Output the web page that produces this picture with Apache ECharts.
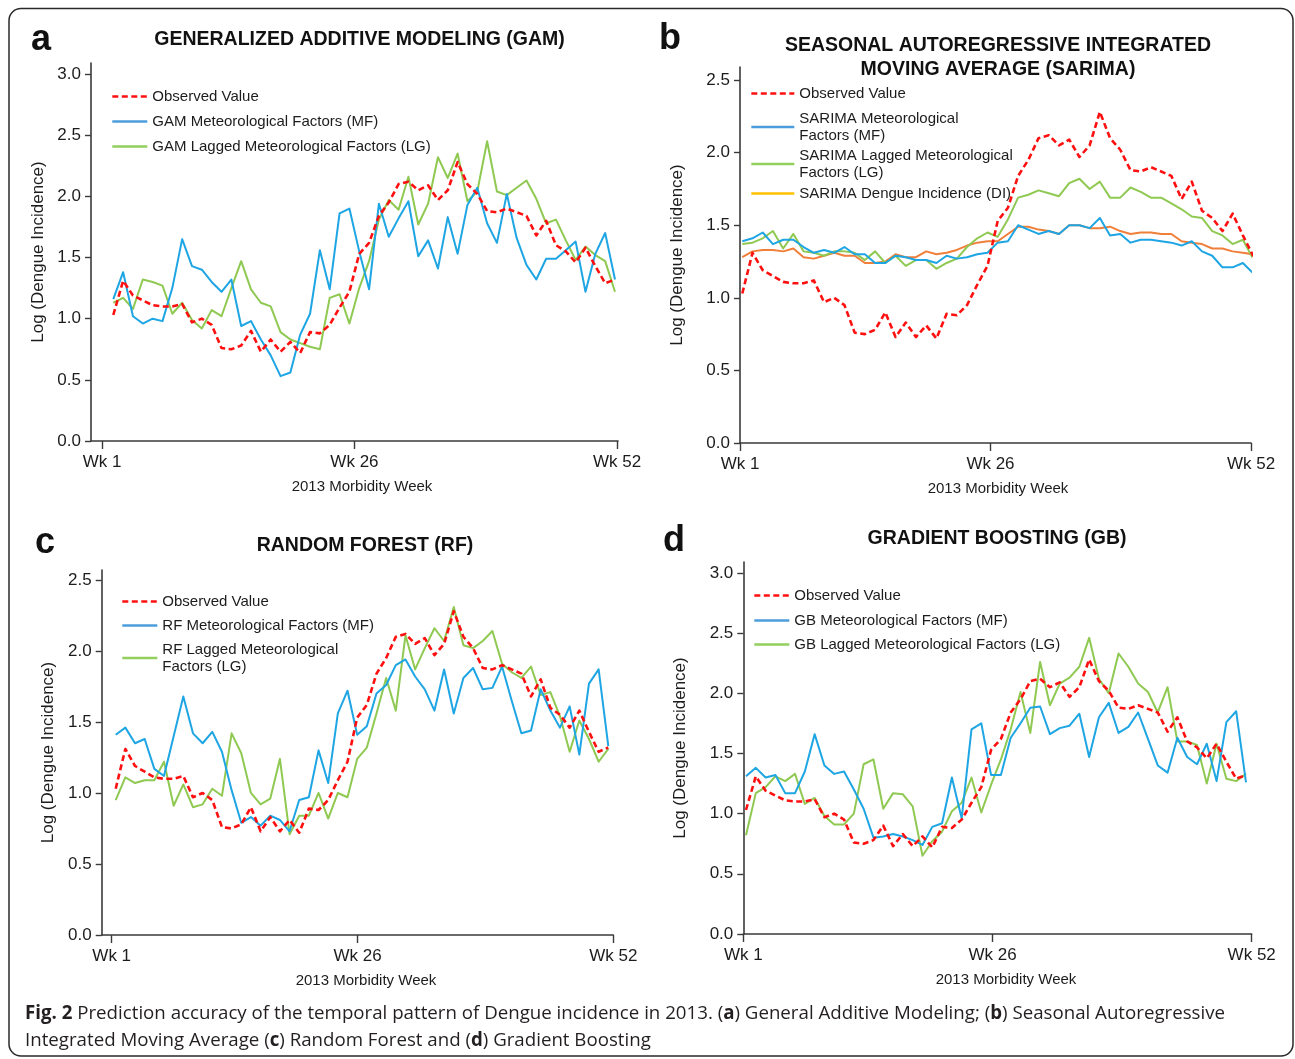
<!DOCTYPE html>
<html><head><meta charset="utf-8">
<script src="https://cdn.jsdelivr.net/npm/echarts@6/dist/echarts.min.js"></script>
<style>html,body{margin:0;padding:0;background:#fff}#c{width:1295px;height:1059px}</style>
</head><body><div id="c"></div>
<script>
// ---------------- DATA ----------------
const weeks = [1,2,3,4,5,6,7,8,9,10,11,12,13,14,15,16,17,18,19,20,21,22,23,24,25,26,27,28,29,30,31,32,33,34,35,36,37,38,39,40,41,42,43,44,45,46,47,48,49,50,51,52];
const tickWeeks = [1, 26, 52];
const tickLabels = ['Wk 1', 'Wk 26', 'Wk 52'];
const yTicks30 = [0, 0.5, 1.0, 1.5, 2.0, 2.5, 3.0];
const yTicks25 = [0, 0.5, 1.0, 1.5, 2.0, 2.5];

const observed = [1.03,1.31,1.19,1.15,1.11,1.10,1.10,1.12,0.97,1.00,0.95,0.76,0.75,0.78,0.90,0.73,0.83,0.73,0.81,0.72,0.89,0.88,0.95,1.09,1.22,1.53,1.62,1.84,1.95,2.10,2.12,2.05,2.09,1.97,2.05,2.28,2.10,2.02,1.88,1.87,1.90,1.87,1.84,1.68,1.80,1.60,1.55,1.46,1.58,1.43,1.29,1.32];

const gamMF = [1.16,1.38,1.02,0.96,1.00,0.98,1.25,1.65,1.43,1.40,1.30,1.22,1.32,0.94,0.98,0.83,0.70,0.53,0.56,0.87,1.04,1.56,1.24,1.86,1.90,1.55,1.24,1.94,1.67,1.82,1.96,1.51,1.64,1.41,1.83,1.53,1.93,2.07,1.78,1.62,2.02,1.66,1.44,1.32,1.49,1.49,1.56,1.63,1.22,1.53,1.70,1.32];
const gamLG = [1.13,1.17,1.08,1.32,1.30,1.27,1.04,1.13,0.99,0.92,1.07,1.02,1.25,1.47,1.24,1.13,1.10,0.89,0.83,0.80,0.77,0.75,1.17,1.20,0.96,1.25,1.47,1.81,1.97,1.89,2.16,1.77,1.94,2.32,2.15,2.35,1.96,2.04,2.45,2.04,2.01,2.07,2.13,1.98,1.78,1.81,1.64,1.48,1.59,1.52,1.47,1.22];

const sarMF = [1.39,1.41,1.45,1.37,1.40,1.40,1.35,1.31,1.33,1.31,1.35,1.30,1.30,1.24,1.24,1.29,1.28,1.26,1.26,1.24,1.29,1.27,1.28,1.30,1.31,1.38,1.39,1.50,1.47,1.44,1.46,1.44,1.50,1.50,1.48,1.55,1.43,1.44,1.38,1.40,1.40,1.39,1.38,1.36,1.39,1.32,1.29,1.21,1.21,1.24,1.17,1.24];
const sarLG = [1.37,1.38,1.41,1.46,1.34,1.44,1.32,1.31,1.29,1.32,1.32,1.31,1.26,1.32,1.24,1.29,1.22,1.26,1.26,1.20,1.24,1.27,1.35,1.41,1.45,1.42,1.54,1.69,1.71,1.74,1.72,1.70,1.79,1.82,1.75,1.80,1.69,1.69,1.76,1.73,1.69,1.69,1.65,1.61,1.56,1.55,1.46,1.43,1.37,1.40,1.27,1.28];
const sarDI = [1.28,1.32,1.33,1.33,1.32,1.34,1.28,1.27,1.29,1.31,1.29,1.29,1.24,1.24,1.25,1.30,1.28,1.28,1.32,1.30,1.31,1.33,1.36,1.38,1.39,1.39,1.44,1.49,1.49,1.47,1.46,1.44,1.50,1.50,1.48,1.48,1.49,1.46,1.44,1.45,1.45,1.44,1.44,1.39,1.38,1.37,1.34,1.34,1.32,1.31,1.30,1.26];

const rfMF = [1.41,1.46,1.35,1.38,1.17,1.12,1.40,1.68,1.42,1.35,1.43,1.29,1.02,0.79,0.83,0.77,0.84,0.81,0.73,0.95,0.97,1.30,1.07,1.56,1.72,1.41,1.47,1.70,1.76,1.90,1.94,1.82,1.73,1.58,1.87,1.56,1.81,1.88,1.73,1.74,1.89,1.65,1.42,1.44,1.73,1.58,1.46,1.61,1.27,1.77,1.87,1.33];
const rfLG = [0.95,1.11,1.07,1.09,1.09,1.22,0.91,1.06,0.90,0.92,1.03,0.98,1.42,1.28,1.00,0.92,0.96,1.24,0.71,0.84,0.84,1.00,0.82,1.00,0.97,1.24,1.32,1.56,1.81,1.58,2.11,1.87,2.02,2.16,2.07,2.31,2.04,2.02,2.07,2.14,1.91,1.85,1.81,1.89,1.69,1.71,1.54,1.29,1.51,1.38,1.22,1.31];

const gbMF = [1.31,1.38,1.30,1.32,1.17,1.17,1.35,1.66,1.40,1.33,1.35,1.20,1.04,0.80,0.81,0.83,0.81,0.78,0.74,0.89,0.92,1.30,0.96,1.70,1.75,1.32,1.32,1.63,1.75,1.88,1.89,1.66,1.71,1.73,1.83,1.47,1.80,1.92,1.67,1.72,1.84,1.62,1.40,1.34,1.63,1.47,1.41,1.58,1.27,1.76,1.85,1.26];
const gbLG = [0.82,1.17,1.22,1.31,1.27,1.33,1.08,1.13,0.98,0.91,0.91,1.00,1.41,1.45,1.04,1.17,1.16,1.06,0.65,0.77,0.85,1.02,1.09,1.30,1.01,1.24,1.45,1.70,2.01,1.67,2.26,1.90,2.08,2.13,2.22,2.46,2.12,2.00,2.33,2.22,2.08,2.01,1.84,2.05,1.60,1.60,1.57,1.25,1.58,1.29,1.27,1.33];

const panelLetters = ['a', 'b', 'c', 'd'];
const panelTitles = [
  ['GENERALIZED ADDITIVE MODELING (GAM)'],
  ['SEASONAL AUTOREGRESSIVE INTEGRATED', 'MOVING AVERAGE (SARIMA)'],
  ['RANDOM FOREST (RF)'],
  ['GRADIENT BOOSTING (GB)']
];
const xAxisTitle = '2013 Morbidity Week';
const yAxisTitle = 'Log (Dengue Incidence)';
const captionLine1 = ['Fig. 2', ' Prediction accuracy of the temporal pattern of Dengue incidence in 2013. (', 'a', ') General Additive Modeling; (', 'b', ') Seasonal Autoregressive'];
const captionLine2 = ['Integrated Moving Average (', 'c', ') Random Forest and (', 'd', ') Gradient Boosting'];

// series definitions: [name, legend label, data array, kind]
const panelSeries = [
  [['Observed Value','Observed Value',observed,'obs'],
   ['GAM Meteorological Factors (MF)','GAM Meteorological Factors (MF)',gamMF,'mf'],
   ['GAM Lagged Meteorological Factors (LG)','GAM Lagged Meteorological Factors (LG)',gamLG,'lg']],
  [['Observed Value','Observed Value',observed,'obs'],
   ['SARIMA Meteorological Factors (MF)','SARIMA Meteorological\nFactors (MF)',sarMF,'mf'],
   ['SARIMA Lagged Meteorological Factors (LG)','SARIMA Lagged Meteorological\nFactors (LG)',sarLG,'lg'],
   ['SARIMA Dengue Incidence (DI)','SARIMA Dengue Incidence (DI)',sarDI,'di']],
  [['Observed Value','Observed Value',observed,'obs'],
   ['RF Meteorological Factors (MF)','RF Meteorological Factors (MF)',rfMF,'mf'],
   ['RF Lagged Meteorological Factors (LG)','RF Lagged Meteorological\nFactors (LG)',rfLG,'lg']],
  [['Observed Value','Observed Value',observed,'obs'],
   ['GB Meteorological Factors (MF)','GB Meteorological Factors (MF)',gbMF,'mf'],
   ['GB Lagged Meteorological Factors (LG)','GB Lagged Meteorological Factors (LG)',gbLG,'lg']]
];

// ---------------- LAYOUT / STYLE ----------------
const FONT = '"Liberation Sans", Arial, Helvetica, sans-serif';
const TXT = '#1c1c1c';
const AX = '#3a3a3a';
const styles = {
  obs: {color:'#ff1010', width:2.6, type:[6,3.5], z:5},
  mf:  {color:'#1ea5e3', width:2, type:'solid', z:3},
  lg:  {color:'#8fc952', width:2, type:'solid', z:2},
  di:  {color:'#f07f3a', width:2, type:'solid', z:1}
};
const legendColor = {obs:'#ff1010', mf:'#4c9ddc', lg:'#92cf5c', di:'#ffc000'};

const layout = [
  {axisX:91, axisY:441, top:63, right:618, yMax:3.09, yTicks:yTicks30, vis:[102,617], dat:[113.3,615],
   titleX:359.5, titleY:[40], letter:[41,40], yGap:44, xPad:15,
   legLeft:111, legW:35, legTops:[88,113,138]},
  {axisX:740, axisY:443, top:67, right:1251, yMax:2.59, yTicks:yTicks25, vis:[740,1251], dat:[742.3,1263.3],
   titleX:998, titleY:[46,70], letter:[670,39], yGap:54, xPad:5,
   legLeft:750, legW:43, legTops:[85,110,147,185]},
  {axisX:101.7, axisY:935, top:570, right:613.3, yMax:2.57, yTicks:yTicks25, vis:[111.7,613.3], dat:[115.7,608.3],
   titleX:365, titleY:[546], letter:[45,543], yGap:45, xPad:17,
   legLeft:121, legW:35, legTops:[593,617,641]},
  {axisX:743.3, axisY:934, top:562, right:1251.7, yMax:3.09, yTicks:yTicks30, vis:[743.3,1251.7], dat:[746,1246],
   titleX:997, titleY:[539], letter:[674,541], yGap:54.5, xPad:17,
   legLeft:753, legW:35, legTops:[587,612,636]}
];

function extent(px, axisX, right) {
  const ppw = (px[1] - px[0]) / 51;
  return [1 - (px[0] - axisX) / ppw, 52 + (right - px[1]) / ppw];
}

const grid = [], xAxis = [], yAxis = [], series = [], legend = [], graphic = [];

layout.forEach((L, i) => {
  grid.push({left:L.axisX, top:L.top, width:L.right - L.axisX, height:L.axisY - L.top, containLabel:false});
  const ve = extent(L.vis, L.axisX, L.right);
  const de = extent(L.dat, L.axisX, L.right);
  xAxis.push({
    type:'value', gridIndex:i, min:ve[0], max:ve[1], position:'bottom',
    axisLine:{show:true, onZero:false, lineStyle:{color:AX, width:1.6}},
    axisTick:{show:true, customValues:tickWeeks, length:8, lineStyle:{color:AX, width:1.4}},
    axisLabel:{show:true, customValues:tickWeeks, formatter:(v)=>tickLabels[tickWeeks.indexOf(Math.round(v))],
      margin:13, fontSize:17, color:TXT, fontFamily:FONT},
    splitLine:{show:false},
    name:xAxisTitle, nameLocation:'middle', nameGap:38,
    nameTextStyle:{fontSize:15, color:TXT, fontFamily:FONT, padding:[0,0,0,L.xPad]}
  });
  xAxis.push({type:'value', gridIndex:i, min:de[0], max:de[1], show:false, position:'top'});
  yAxis.push({
    type:'value', gridIndex:i, min:0, max:L.yMax,
    axisLine:{show:true, onZero:false, lineStyle:{color:AX, width:1.6}},
    axisTick:{show:true, customValues:L.yTicks, length:6, lineStyle:{color:AX, width:1.4}},
    axisLabel:{show:true, customValues:L.yTicks, formatter:(v)=>v.toFixed(1), margin:10,
      fontSize:17, color:TXT, fontFamily:FONT},
    splitLine:{show:false},
    name:yAxisTitle, nameLocation:'middle', nameRotate:90, nameGap:L.yGap,
    nameTextStyle:{fontSize:17, color:TXT, fontFamily:FONT}
  });

  panelSeries[i].forEach((s, k) => {
    const st = styles[s[3]];
    series.push({
      type:'line', name:s[0], xAxisIndex:2*i + 1, yAxisIndex:i,
      data:weeks.map((w, j) => [w, s[2][j]]),
      symbol:'none', showSymbol:false, clip:false, silent:true, animation:false, z:st.z,
      lineStyle:{color:st.color, width:st.width, type:st.type, cap:'butt', join:'round'},
      itemStyle:{color:st.color}
    });
    legend.push({
      show:true, orient:'vertical', left:L.legLeft, top:L.legTops[k], padding:0, itemGap:0,
      itemWidth:L.legW, itemHeight:14, selectedMode:false,
      data:[{name:s[0],
        itemStyle:{color:'rgba(0,0,0,0)', borderColor:'rgba(0,0,0,0)', borderWidth:0, opacity:0},
        lineStyle:{color:legendColor[s[3]], width:2.6, type:st.type, opacity:1}}],
      formatter:() => s[1],
      textStyle:{fontSize:15, color:TXT, fontFamily:FONT, lineHeight:17}
    });
  });

  L.titleY.forEach((ty, t) => {
    graphic.push({type:'text', x:L.titleX, y:ty, silent:true,
      style:{text:panelTitles[i][t], align:'center', verticalAlign:'middle',
        fontSize:19.5, fontWeight:'bold', fontFamily:FONT, fill:'#111'}});
  });
  graphic.push({type:'text', x:L.letter[0], y:L.letter[1], silent:true,
    style:{text:panelLetters[i], align:'center', verticalAlign:'middle',
      fontSize:36, fontWeight:'bold', fontFamily:FONT, fill:'#111'}});
});

// frame
graphic.push({type:'rect', silent:true, z:-1,
  shape:{x:9, y:8.5, width:1284, height:1047.5, r:12},
  style:{fill:'none', stroke:'#2a2a2a', lineWidth:1.5}});

// caption with bold parts
function captionText(parts, boldIdx) {
  return parts.map((p, k) => boldIdx.includes(k) ? '{b|' + p + '}' : '{n|' + p + '}').join('');
}
const CAPF = '"Open Sans", "Noto Sans", sans-serif';
const capRich = {
  n:{fontSize:18.7, fontFamily:CAPF, fill:'#231f20', fontWeight:'normal'},
  b:{fontSize:18.7, fontFamily:CAPF, fill:'#231f20', fontWeight:'bold'}
};
graphic.push({type:'text', x:25, y:1014, silent:true,
  style:{text:captionText(captionLine1, [0,2,4]), rich:capRich, align:'left', verticalAlign:'middle'}});
graphic.push({type:'text', x:25, y:1041, silent:true,
  style:{text:captionText(captionLine2, [1,3]), rich:capRich, align:'left', verticalAlign:'middle'}});

const chart = echarts.init(document.getElementById('c'), null, {renderer:'canvas'});
chart.setOption({
  backgroundColor:'#ffffff',
  animation:false,
  grid, xAxis, yAxis, series, legend, graphic
});
</script></body></html>
